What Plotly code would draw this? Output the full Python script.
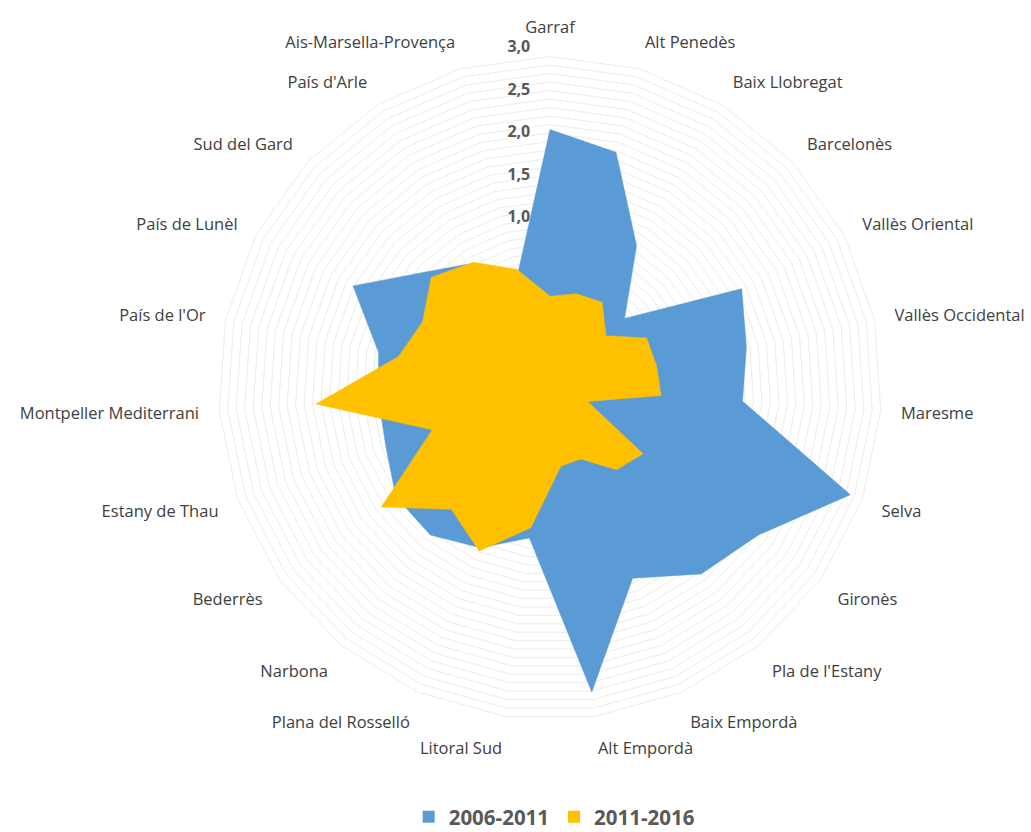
import plotly.graph_objects as go

categories = ["Garraf", "Alt Penedès", "Baix Llobregat", "Barcelonès", "Vallès Oriental",
              "Vallès Occidental", "Maresme", "Selva", "Gironès", "Pla de l'Estany",
              "Baix Empordà", "Alt Empordà", "Litoral Sud", "Plana del Rosselló", "Narbona",
              "Bederrès", "Estany de Thau", "Montpeller Mediterrani", "País de l'Or",
              "País de Lunèl", "Sud del Gard", "País d'Arle", "Ais-Marsella-Provença"]

s2006_2011 = [2.04, 1.88, 0.96, 0.20, 1.54, 1.36, 1.27, 2.75, 2.00, 1.82, 1.44, 2.61,
              0.78, 1.05, 1.23, 1.22, 1.05, 1.02, 1.06, 1.61, 1.00, 0.72, 0.40]
s2011_2016 = [0.08, 0.15, 0.18, -0.10, 0.28, 0.28, 0.31, -0.53, 0.34, 0.24, -0.09, -0.07,
              0.66, 1.09, 0.84, 1.43, 0.47, 1.76, 0.82, 0.69, 0.91, 0.73, 0.45]

series_names = ["2006-2011", "2011-2016"]
series_colors = ["#5B9BD5", "#FFC000"]

# radial axis: grid every 0,1 ; labels every 0,5
grid_vals = [round(-1.0 + 0.1 * i, 1) for i in range(41)]
label_vals = [-1.0, -0.5, 0.0, 0.5, 1.0, 1.5, 2.0, 2.5, 3.0]
label_text = [f"{v:.1f}".replace(".", ",") for v in label_vals]

fig = go.Figure()
for name, vals, col in zip(series_names, [s2006_2011, s2011_2016], series_colors):
    fig.add_trace(go.Scatterpolar(
        r=vals + [vals[0]], theta=categories + [categories[0]],
        mode="lines", fill="toself", fillcolor=col,
        line=dict(color=col, width=0.5), name=name,
        showlegend=False, hoverinfo="skip"))

# radial tick labels drawn on top of the filled areas
fig.add_trace(go.Scatterpolar(
    r=label_vals, theta=[categories[0]] * len(label_vals),
    mode="markers+text", text=label_text, textposition="middle left",
    marker=dict(size=30, color="rgba(0,0,0,0)"),
    textfont=dict(size=16, color="#595959", family="Open Sans, sans-serif", weight="bold"),
    showlegend=False, hoverinfo="skip"))

# legend entries (square keys)
for name, col in zip(series_names, series_colors):
    fig.add_trace(go.Scatterpolar(
        r=[None], theta=[None], mode="markers", name=name,
        marker=dict(symbol="square", size=12, color=col), showlegend=True))

fig.update_layout(
    width=1031, height=832,
    paper_bgcolor="white", plot_bgcolor="white",
    margin=dict(l=0, r=0, t=0, b=0, autoexpand=False),
    font=dict(family="Open Sans, sans-serif"),
    polar=dict(
        domain=dict(x=[210 / 1031, 890 / 1031], y=[1 - 728 / 832, 1 - 48 / 832]),
        bgcolor="white",
        gridshape="linear",
        angularaxis=dict(
            direction="clockwise", rotation=90, showgrid=False, showline=False,
            ticks="outside", ticklen=8, tickcolor="rgba(0,0,0,0)",
            tickfont=dict(size=16.5, color="#404040"),
        ),
        radialaxis=dict(
            range=[-1, 3], angle=90, tickvals=grid_vals, showticklabels=False,
            showline=False, ticks="", gridcolor="#EBEBEB", gridwidth=1,
            layer="below traces",
        ),
    ),
    showlegend=True,
    legend=dict(orientation="h", x=0.538, xanchor="center", y=0.018, yanchor="middle",
                font=dict(size=20.5, color="#595959", weight="bold")),
)

fig.write_html("out.html", config={"displayModeBar": False},
               post_script="document.body.style.margin='0px';document.body.style.padding='0px';document.body.style.overflow='hidden';")
